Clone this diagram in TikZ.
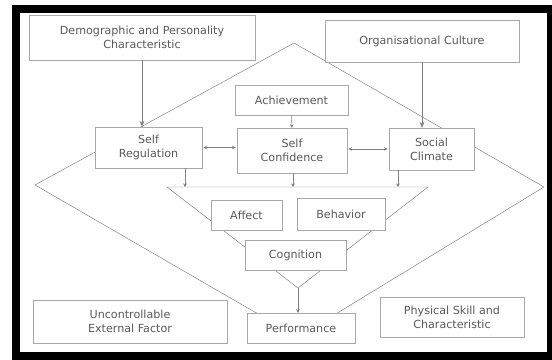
\documentclass[tikz,border=0pt]{standalone}
\usepackage{fontspec}
\setmainfont{DejaVu Sans}
\usetikzlibrary{arrows.meta}
\definecolor{Frame}{HTML}{000000}
\definecolor{Edge}{HTML}{A8A8A8}
\definecolor{Ink}{HTML}{5A5A5A}
\definecolor{Wire}{HTML}{808080}

\begin{document}
\begin{tikzpicture}[x=0.03cm,y=-0.03cm,
    box/.style={draw=Edge,fill=white,inner sep=0pt,align=center,text=Ink,font=\fontsize{9.5}{12}\selectfont},
    flow/.style={draw=Wire,-{Stealth[length=5pt,width=4pt]}},
    tick/.style={draw=Wire,-{Stealth[length=3pt,width=3pt]}},
    link/.style={draw=Wire,{Stealth[length=3pt,width=3pt]}-{Stealth[length=3pt,width=3pt]}}]
        \useasboundingbox (0,0) rectangle (552,360);
        \fill[Frame] (12,5) rectangle (552,360);
        \fill[white] (20,13) rectangle (547,352);
        % big diamond and funnel behind the boxes
        \coordinate (dtop) at (294,43);\coordinate (dleft) at (35,185);
        \coordinate (dbot) at (298,337);\coordinate (dright) at (544,187);
        \draw[Wire] (dtop) -- (dleft) -- (dbot) -- (dright) -- cycle;
        \coordinate (fl) at (167,187);\coordinate (fr) at (428,187);\coordinate (fv) at (298,288);
        \draw[Wire] (fl) -- (fr) -- (fv) -- cycle;
        % boxes
        \node[box,minimum width=6.78cm,minimum height=1.35cm] (demo) at (142,37.5) {Demographic and Personality\\Characteristic};
        \node[box,minimum width=5.82cm,minimum height=1.26cm] (org) at (422,41) {Organisational Culture};
        \node[box,minimum width=3.39cm,minimum height=0.9cm] (achieve) at (291.5,100) {Achievement};
        \node[box,minimum width=3.21cm,minimum height=1.23cm] (selfreg) at (148.5,147.5) {Self\\Regulation};
        \node[box,minimum width=3.3cm,minimum height=1.35cm] (selfconf) at (292,150.5) {Self\\Confidence};
        \node[box,minimum width=2.55cm,minimum height=1.26cm] (social) at (431.5,149) {Social\\Climate};
        \node[box,minimum width=2.13cm,minimum height=0.9cm] (affect) at (246.5,215) {Affect};
        \node[box,minimum width=2.64cm,minimum height=0.96cm] (behavior) at (341,214) {Behavior};
        \node[box,minimum width=3.03cm,minimum height=0.9cm] (cognition) at (295.5,255) {Cognition};
        \node[box,minimum width=3.24cm,minimum height=0.9cm] (perf) at (301,328) {Performance};
        \node[box,minimum width=5.82cm,minimum height=1.29cm] (uncontrol) at (130,321.5) {Uncontrollable\\External Factor};
        \node[box,minimum width=4.32cm,minimum height=1.2cm] (physical) at (452,317) {Physical Skill and\\Characteristic};
        % connectors
        \draw[flow] (demo.south) -- (demo.south |- selfreg.north);
        \draw[flow] (org.south) -- (org.south |- social.north);
        \draw[tick] (achieve) -- (selfconf);
        \draw[link,shorten <=1pt,shorten >=1pt] (selfreg.east) -- (selfconf.west |- selfreg.east);
        \draw[link,shorten <=1pt,shorten >=1pt] (selfconf.east |- social.west) -- (social.west);
        \coordinate (f1) at (185,187);\coordinate (f2) at (293,187);\coordinate (f3) at (398,187);
        \draw[tick] (selfreg.south -| f1) -- (f1);
        \draw[tick] (selfconf.south -| f2) -- (f2);
        \draw[tick] (social.south -| f3) -- (f3);
        \draw[tick] (fv) -- (perf.north -| fv);
      \end{tikzpicture}
\end{document}
